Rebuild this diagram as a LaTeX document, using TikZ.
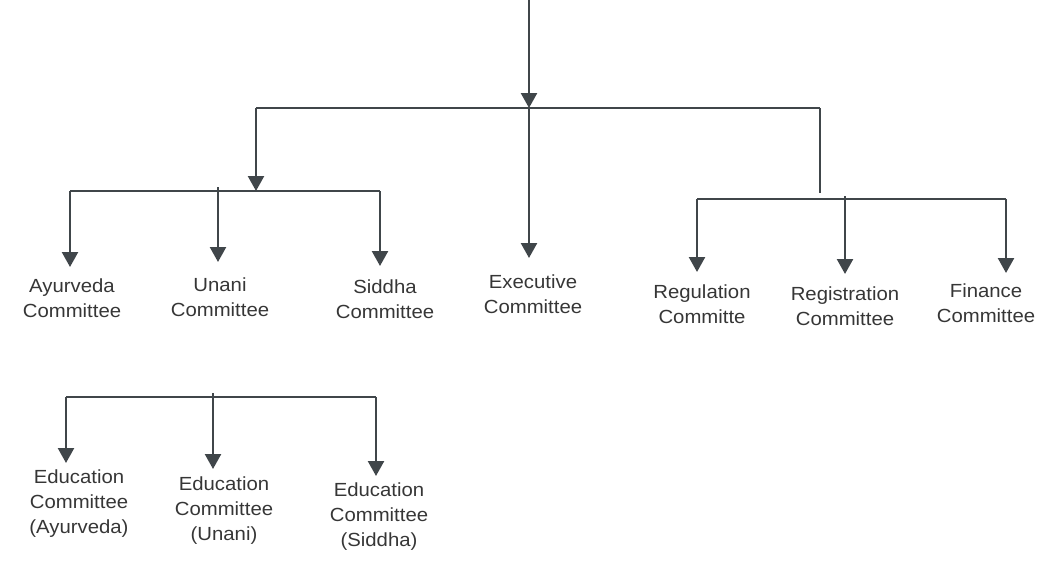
\documentclass[tikz,border=0pt]{standalone}
\usepackage{fontspec}
\setmainfont{Liberation Sans}[FakeStretch=1.07]
\usetikzlibrary{arrows.meta}
\definecolor{ink}{HTML}{40464A}
\definecolor{txt}{HTML}{363636}
\begin{document}
\begin{tikzpicture}[x=1pt,y=-1pt,
  conn/.style={draw=ink,line width=2.4pt},
  arr/.style={conn,-{Triangle[width=16pt,length=15pt]}},
  lbl/.style={font=\fontsize{19}{25}\selectfont, text=txt, align=center, inner sep=0pt}]
\useasboundingbox (0,0) rectangle (1056,562);
% labels
\node[lbl] (ayur)  at (72,298)  {Ayurveda\\Committee};
\node[lbl] (unani) at (220,297) {Unani\\Committee};
\node[lbl] (sidd)  at (385,299) {Siddha\\Committee};
\node[lbl] (exec)  at (533,294) {Executive\\Committee};
\node[lbl] (regu)  at (702,304) {Regulation\\Committe};
\node[lbl] (regi)  at (845,306.5) {Registration\\Committee};
\node[lbl] (fin)   at (986,303) {Finance\\Committee};
\node[lbl] (eayur) at (79,504)  {Education\\Committee\\(Ayurveda)};
\node[lbl] (eunani) at (224,511) {Education\\Committee\\(Unani)};
\node[lbl] (esidd) at (379,517) {Education\\Committee\\(Siddha)};
% junction coordinates
\coordinate (top) at (529,0);
\coordinate (j0) at (529,108);
\coordinate (jl) at (256,108);
\coordinate (jr) at (820,108);
\coordinate (jlt) at (256,191);
\coordinate (jrt) at (820,193);
\coordinate (la) at (70,191);
\coordinate (lu) at (218,187);
\coordinate (ls) at (380,191);
\coordinate (ra) at (697,199);
\coordinate (rm) at (845,196);
\coordinate (rf) at (1006,199);
\coordinate (ba) at (66,397);
\coordinate (bu) at (213,393);
\coordinate (bs) at (376,397);
% tips
\coordinate (tla) at (70,267);
\coordinate (tlu) at (218,262);
\coordinate (tls) at (380,266);
\coordinate (tex) at (529,258);
\coordinate (tra) at (697,272);
\coordinate (trm) at (845,274);
\coordinate (trf) at (1006,273);
\coordinate (tba) at (66,463);
\coordinate (tbu) at (213,469);
\coordinate (tbs) at (376,476);
% connectors
\draw[arr] (top) -- (j0);
\draw[conn] (jl) -- (jr);
\draw[arr] (jl) -- (jlt);
\draw[arr] (j0) -- (tex);
\draw[conn] (jr) -- (jrt);
\draw[conn] (la) -- (ls);
\draw[arr] (la) -- (tla);
\draw[arr] (lu) -- (tlu);
\draw[arr] (ls) -- (tls);
\draw[conn] (ra) -- (rf);
\draw[arr] (ra) -- (tra);
\draw[arr] (rm) -- (trm);
\draw[arr] (rf) -- (trf);
\draw[conn] (ba) -- (bs);
\draw[arr] (ba) -- (tba);
\draw[arr] (bu) -- (tbu);
\draw[arr] (bs) -- (tbs);
\end{tikzpicture}
\end{document}
